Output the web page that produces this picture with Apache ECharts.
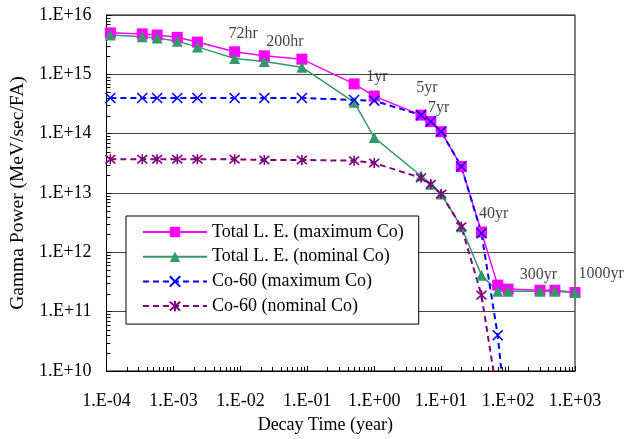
<!DOCTYPE html>
<html>
<head>
<meta charset="utf-8">
<script src="https://cdn.jsdelivr.net/npm/echarts@6/dist/echarts.min.js"></script>
<style>html,body{margin:0;padding:0;background:#fff;}#c{width:636px;height:439px;}</style>
</head>
<body>
<div id="c"></div>
<script>
// Decay time (years)
const timeYears = [1.14e-4, 3.42e-4, 5.7e-4, 1.14e-3, 2.28e-3, 8.2e-3, 2.28e-2, 0.083, 0.5, 1, 5, 7, 10, 20, 40, 70, 100, 300, 500, 1000];
// Gamma power (MeV/sec/FA)
const totalMaxCo = [5.0e15, 4.8e15, 4.6e15, 4.2e15, 3.5e15, 2.4e15, 2.05e15, 1.8e15, 6.9e14, 4.3e14, 2.05e14, 1.6e14, 1.08e14, 2.8e13, 2.2e12, 2.8e11, 2.4e11, 2.3e11, 2.3e11, 2.1e11];
const totalNomCo = [4.6e15, 4.3e15, 4.1e15, 3.6e15, 2.9e15, 1.85e15, 1.65e15, 1.32e15, 3.4e14, 8.6e13, 1.95e13, 1.4e13, 9.6e12, 2.7e12, 4.1e11, 2.2e11, 2.2e11, 2.2e11, 2.2e11, 2.1e11];
const co60MaxCo = [4.0e14, 4.0e14, 4.0e14, 4.0e14, 4.0e14, 4.0e14, 4.0e14, 4.0e14, 3.7e14, 3.6e14, 2.05e14, 1.6e14, 1.08e14, 2.8e13, 2.1e12, 4.0e10, 8e8];
const co60NomCo = [3.7e13, 3.7e13, 3.7e13, 3.7e13, 3.7e13, 3.7e13, 3.6e13, 3.6e13, 3.5e13, 3.2e13, 1.8e13, 1.4e13, 9.6e12, 2.7e12, 1.9e11, 3.5e9];
const seriesNames = ['Total L. E. (maximum Co)', 'Total L. E. (nominal Co)', 'Co-60 (maximum Co)', 'Co-60 (nominal Co)'];
// Annotations: text, time, power
const annoText = ['72hr', '200hr', '1yr', '5yr', '7yr', '40yr', '300yr', '1000yr'];
const annoX = [0.0110, 0.0461, 1.10, 6.14, 9.2, 61, 284, 2466];
const annoY = [4.8e15, 3.5e15, 9.2e14, 5.9e14, 2.7e14, 4.4e12, 4.2e11, 4.4e11];
// Axis ranges
const xMin = 1e-4, xMax = 1e3, yMin = 1e10, yMax = 1e16;

const FONT = 'Liberation Serif';
const pairs = (ys) => ys.map((v, i) => [timeYears[i], v]);
const fmtE = (v) => {
  const e = Math.round(Math.log10(v));
  const s = e < 0 ? '-' : '+';
  const a = Math.abs(e);
  return '1.E' + s + (a < 10 ? '0' + a : '' + a);
};
// minor tick positions (2..9 per decade)
const minorX = [], minorY = [];
for (let k = -4; k < 3; k++) for (let m = 2; m <= 9; m++) minorX.push([m * Math.pow(10, k), yMin]);
for (let k = 10; k < 16; k++) for (let m = 2; m <= 9; m++) minorY.push([xMin, m * Math.pow(10, k)]);

const chart = echarts.init(document.getElementById('c'), null, {renderer: 'canvas'});
chart.setOption({
  animation: false,
  backgroundColor: '#fff',
  textStyle: {fontFamily: FONT},
  grid: {left: 102, top: 15, right: 61, bottom: 66, show: true, borderColor: '#000', borderWidth: 1, backgroundColor: 'transparent'},
  legend: {
    data: seriesNames,
    orient: 'vertical',
    left: 126, top: 216,
    backgroundColor: '#fff',
    borderColor: '#000', borderWidth: 1, borderRadius: 0,
    padding: [7, 15, 9, 16],
    itemWidth: 64, itemHeight: 13, itemGap: 6.7,
    textStyle: {fontFamily: FONT, fontSize: 18, color: '#000'},
    z: 10
  },
  xAxis: {
    type: 'log', logBase: 10, min: xMin, max: xMax, interval: 1,
    name: 'Decay Time (year)', nameLocation: 'middle', nameGap: 45,
    nameTextStyle: {fontFamily: FONT, fontSize: 18, color: '#000', padding: [0, 31, 0, 0]},
    axisLine: {show: true, lineStyle: {color: '#000', width: 1}},
    axisTick: {show: true, inside: true, length: 5, lineStyle: {color: '#000'}},
    axisLabel: {formatter: fmtE, fontFamily: FONT, fontSize: 18, color: '#000', margin: 21},
    splitLine: {show: false}
  },
  yAxis: {
    type: 'log', logBase: 10, min: yMin, max: yMax, interval: 1,
    name: 'Gamma Power (MeV/sec/FA)', nameLocation: 'middle', nameGap: 71, nameRotate: 90,
    nameTextStyle: {fontFamily: FONT, fontSize: 19.5, color: '#000'},
    axisLine: {show: true, lineStyle: {color: '#000', width: 1}},
    axisTick: {show: true, inside: true, length: 5, lineStyle: {color: '#000'}},
    axisLabel: {formatter: fmtE, fontFamily: FONT, fontSize: 18, color: '#000', margin: 15},
    splitLine: {show: true, lineStyle: {color: '#444', width: 1}}
  },
  series: [
    {
      name: seriesNames[0], type: 'line', data: pairs(totalMaxCo),
      symbol: 'rect', symbolSize: 11,
      lineStyle: {color: '#FF00FF', width: 1.5},
      itemStyle: {color: '#FF00FF', borderWidth: 0}
    },
    {
      name: seriesNames[1], type: 'line', data: pairs(totalNomCo),
      symbol: 'triangle', symbolSize: 11,
      lineStyle: {color: '#339966', width: 1.5},
      itemStyle: {color: '#339966', borderWidth: 0}
    },
    {
      name: seriesNames[2], type: 'line', data: pairs(co60MaxCo),
      symbol: 'path://M0,0L10,10M10,0L0,10', symbolSize: 10,
      lineStyle: {color: '#0000FF', width: 2, type: [6, 4]},
      itemStyle: {color: '#0000FF', borderColor: '#0000FF', borderWidth: 1.6}
    },
    {
      name: seriesNames[3], type: 'line', data: pairs(co60NomCo),
      symbol: 'path://M0,0L10,10M10,0L0,10M5,-1L5,11', symbolSize: 10,
      lineStyle: {color: '#800080', width: 2, type: [6, 4]},
      itemStyle: {color: '#800080', borderColor: '#800080', borderWidth: 1.6}
    },
    {
      type: 'scatter', silent: true, clip: false,
      data: annoText.map((t, i) => ({value: [annoX[i], annoY[i]], name: t})),
      symbolSize: 1, itemStyle: {color: 'rgba(0,0,0,0)'},
      label: {show: true, position: 'inside', formatter: (p) => p.name, fontFamily: FONT, fontSize: 16, color: '#111'},
      z: 5
    },
    {
      type: 'custom', silent: true, data: minorX,
      renderItem: (params, api) => {
        const p = api.coord([api.value(0), api.value(1)]);
        return {type: 'line', shape: {x1: Math.round(p[0]) + 0.5, y1: p[1], x2: Math.round(p[0]) + 0.5, y2: p[1] - 4}, style: {stroke: '#000', lineWidth: 1}};
      }
    },
    {
      type: 'custom', silent: true, data: minorY,
      renderItem: (params, api) => {
        const p = api.coord([api.value(0), api.value(1)]);
        return {type: 'line', shape: {x1: p[0], y1: Math.round(p[1]) + 0.5, x2: p[0] + 4, y2: Math.round(p[1]) + 0.5}, style: {stroke: '#000', lineWidth: 1}};
      }
    }
  ]
});
</script>
</body>
</html>
